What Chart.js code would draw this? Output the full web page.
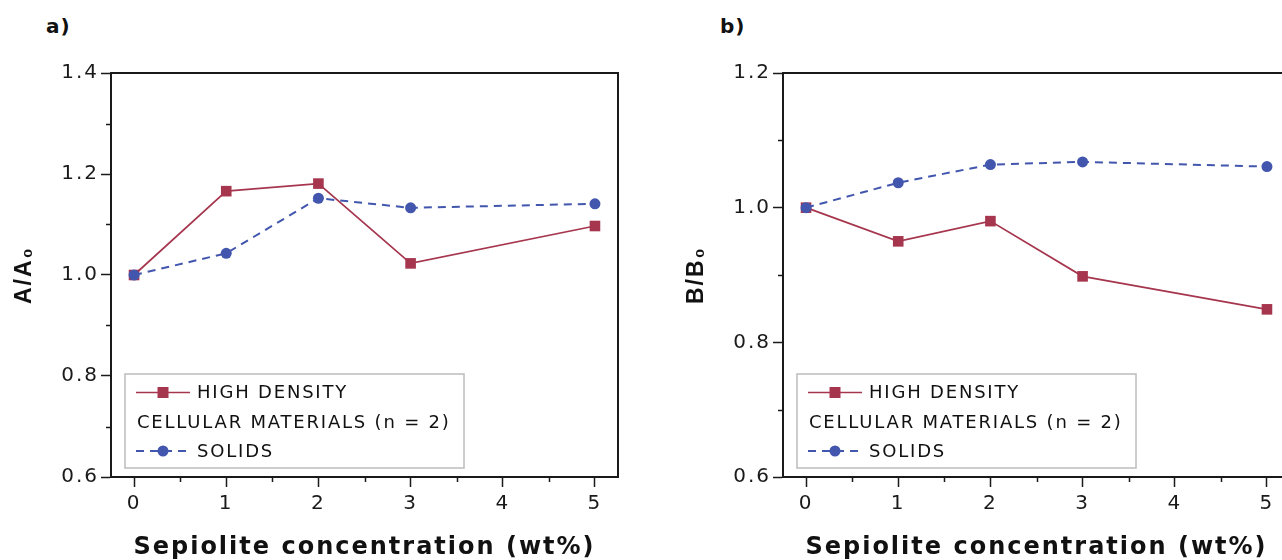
<!DOCTYPE html>
<html>
<head>
<meta charset="utf-8">
<script src="https://cdn.jsdelivr.net/npm/chart.js@4/dist/chart.umd.min.js"></script>
<style>
  html, body { margin: 0; padding: 0; background: #fff; }
  body { width: 1282px; height: 560px; overflow: hidden; position: relative; }
  canvas { position: absolute; top: 0; }
  .panel { position: absolute; top: 14px; font: bold 20px 'DejaVu Sans'; letter-spacing: 1px; color: #111; }
</style>
</head>
<body>
<div class="panel" style="left:46px">a)</div>
<div class="panel" style="left:720px">b)</div>
<canvas id="chartA" width="641" height="560" style="left:0"></canvas>
<canvas id="chartB" width="641" height="560" style="left:672px"></canvas>
<script>
// values
const concentrations = [0, 1, 2, 3, 5];
const highDensityA = [1.0, 1.166, 1.181, 1.023, 1.097];
const solidsA = [1.0, 1.043, 1.152, 1.133, 1.141];
const highDensityB = [1.0, 0.950, 0.980, 0.898, 0.849];
const solidsB = [1.0, 1.037, 1.064, 1.068, 1.061];

const xTicks = [0, 1, 2, 3, 4, 5];
const yTicksA = [0.6, 0.8, 1.0, 1.2, 1.4];
const yTicksB = [0.6, 0.8, 1.0, 1.2];
const legendLabels = ['HIGH DENSITY', 'CELLULAR MATERIALS (n = 2)', 'SOLIDS'];

const red = '#a6364e';
const blue = '#4256ae';
const ink = '#1a1a1a';

const toPoints = (vals) => vals.map((v, i) => ({x: concentrations[i], y: v}));

// wide-ish text like the original figure
const spacing = {
  id: 'spacing',
  beforeDraw(chart) {
    chart.ctx.letterSpacing = '2px';
  }
};

// top/right frame lines and the small in-between ticks
const frame = {
  id: 'frame',
  afterDraw(chart) {
    const {ctx, chartArea: a, scales: {x, y}} = chart;
    ctx.save();
    ctx.strokeStyle = ink;
    ctx.lineWidth = 2;
    ctx.beginPath();
    ctx.moveTo(a.left - 1, a.top);
    ctx.lineTo(a.right, a.top);
    ctx.lineTo(a.right, a.bottom + 1);
    ctx.stroke();

    ctx.lineWidth = 1.5;
    ctx.beginPath();
    for (let i = 0; i < x.ticks.length - 1; i++) {
      const px = Math.round(x.getPixelForValue((x.ticks[i].value + x.ticks[i + 1].value) / 2)) + 0.5;
      ctx.moveTo(px, a.bottom);
      ctx.lineTo(px, a.bottom + 5);
    }
    for (let i = 0; i < y.ticks.length - 1; i++) {
      const py = Math.round(y.getPixelForValue((y.ticks[i].value + y.ticks[i + 1].value) / 2)) + 0.5;
      ctx.moveTo(a.left, py);
      ctx.lineTo(a.left - 5, py);
    }
    ctx.stroke();
    ctx.restore();
  }
};

// boxed legend, the first entry wraps onto a second line
const boxLegend = {
  id: 'boxLegend',
  afterDraw(chart) {
    const {ctx, chartArea} = chart;
    const bx = chartArea.left + 14;
    const by = chartArea.bottom - 103;
    const bw = 339, bh = 94;
    ctx.save();
    ctx.fillStyle = '#fff';
    ctx.fillRect(bx, by, bw, bh);
    ctx.strokeStyle = '#bcbcbc';
    ctx.lineWidth = 1.5;
    ctx.strokeRect(bx, by, bw, bh);

    // high density sample
    let yy = by + 18.5;
    ctx.strokeStyle = red;
    ctx.lineWidth = 1.6;
    ctx.beginPath();
    ctx.moveTo(bx + 11, yy);
    ctx.lineTo(bx + 65, yy);
    ctx.stroke();
    ctx.fillStyle = red;
    ctx.fillRect(bx + 32.5, yy - 5.5, 11, 11);

    // solids sample
    yy = by + 77;
    ctx.strokeStyle = blue;
    ctx.lineWidth = 2;
    ctx.setLineDash([8, 6]);
    ctx.beginPath();
    ctx.moveTo(bx + 11, yy);
    ctx.lineTo(bx + 65, yy);
    ctx.stroke();
    ctx.setLineDash([]);
    ctx.fillStyle = blue;
    ctx.beginPath();
    ctx.arc(bx + 38, yy, 5.5, 0, Math.PI * 2);
    ctx.fill();

    ctx.fillStyle = '#111';
    ctx.font = '18px "DejaVu Sans"';
    ctx.letterSpacing = '1.8px';
    ctx.textBaseline = 'middle';
    ctx.textAlign = 'left';
    ctx.fillText(legendLabels[0], bx + 72, by + 19);
    ctx.fillText(legendLabels[1], bx + 12, by + 49);
    ctx.fillText(legendLabels[2], bx + 72, by + 78);
    ctx.restore();
  }
};

function makeChart(id, yLabel, yMin, yMax, yTicks, hdVals, solVals) {
  const tickFont = {family: 'DejaVu Sans', size: 20};
  return new Chart(document.getElementById(id).getContext('2d'), {
    type: 'line',
    data: {
      datasets: [
        {
          label: legendLabels[0] + ' ' + legendLabels[1],
          data: toPoints(hdVals),
          borderColor: red,
          backgroundColor: red,
          borderWidth: 1.7,
          pointStyle: 'rect',
          pointRadius: 7.5,
          pointBorderWidth: 0,
          order: 1,
        },
        {
          label: legendLabels[2],
          data: toPoints(solVals),
          borderColor: blue,
          backgroundColor: blue,
          borderWidth: 2,
          borderDash: [8, 6],
          pointStyle: 'circle',
          pointRadius: 5.5,
          pointBorderWidth: 0,
          order: 0,
        },
      ]
    },
    options: {
      responsive: false,
      animation: false,
      layout: {padding: {left: 0, top: 73, right: 23, bottom: 0}},
      plugins: {
        legend: {display: false},
        tooltip: {enabled: false},
      },
      scales: {
        x: {
          type: 'linear',
          min: -0.25,
          max: 5.25,
          afterBuildTicks: (s) => { s.ticks = xTicks.map((v) => ({value: v})); },
          afterFit: (s) => { s.height = 83; },
          grid: {drawOnChartArea: false, tickLength: 10, tickColor: ink, tickWidth: 1.5},
          border: {color: ink, width: 2},
          ticks: {color: ink, padding: 5, font: tickFont, maxRotation: 0, autoSkip: false},
          title: {
            display: true,
            text: 'Sepiolite concentration (wt%)',
            color: '#111',
            font: {family: 'DejaVu Sans', size: 24, weight: 'bold', lineHeight: 1},
            padding: {top: 0, bottom: 0},
          }
        },
        y: {
          type: 'linear',
          min: yMin,
          max: yMax,
          afterBuildTicks: (s) => { s.ticks = yTicks.map((v) => ({value: v})); },
          afterFit: (s) => { s.width = 111; },
          grid: {drawOnChartArea: false, tickLength: 10, tickColor: ink, tickWidth: 1.5},
          border: {color: ink, width: 2},
          ticks: {
            color: ink,
            padding: 2,
            font: tickFont,
            callback: (v) => v.toFixed(1),
          },
          title: {
            display: true,
            text: yLabel,
            color: '#111',
            font: {family: 'Liberation Sans', size: 23, weight: 'bold'},
            padding: {top: 11, bottom: 0},
          }
        }
      }
    },
    plugins: [spacing, frame, boxLegend]
  });
}

makeChart('chartA', 'A/A₀', 0.6, 1.4, yTicksA, highDensityA, solidsA);
makeChart('chartB', 'B/B₀', 0.6, 1.2, yTicksB, highDensityB, solidsB);
</script>
</body>
</html>
